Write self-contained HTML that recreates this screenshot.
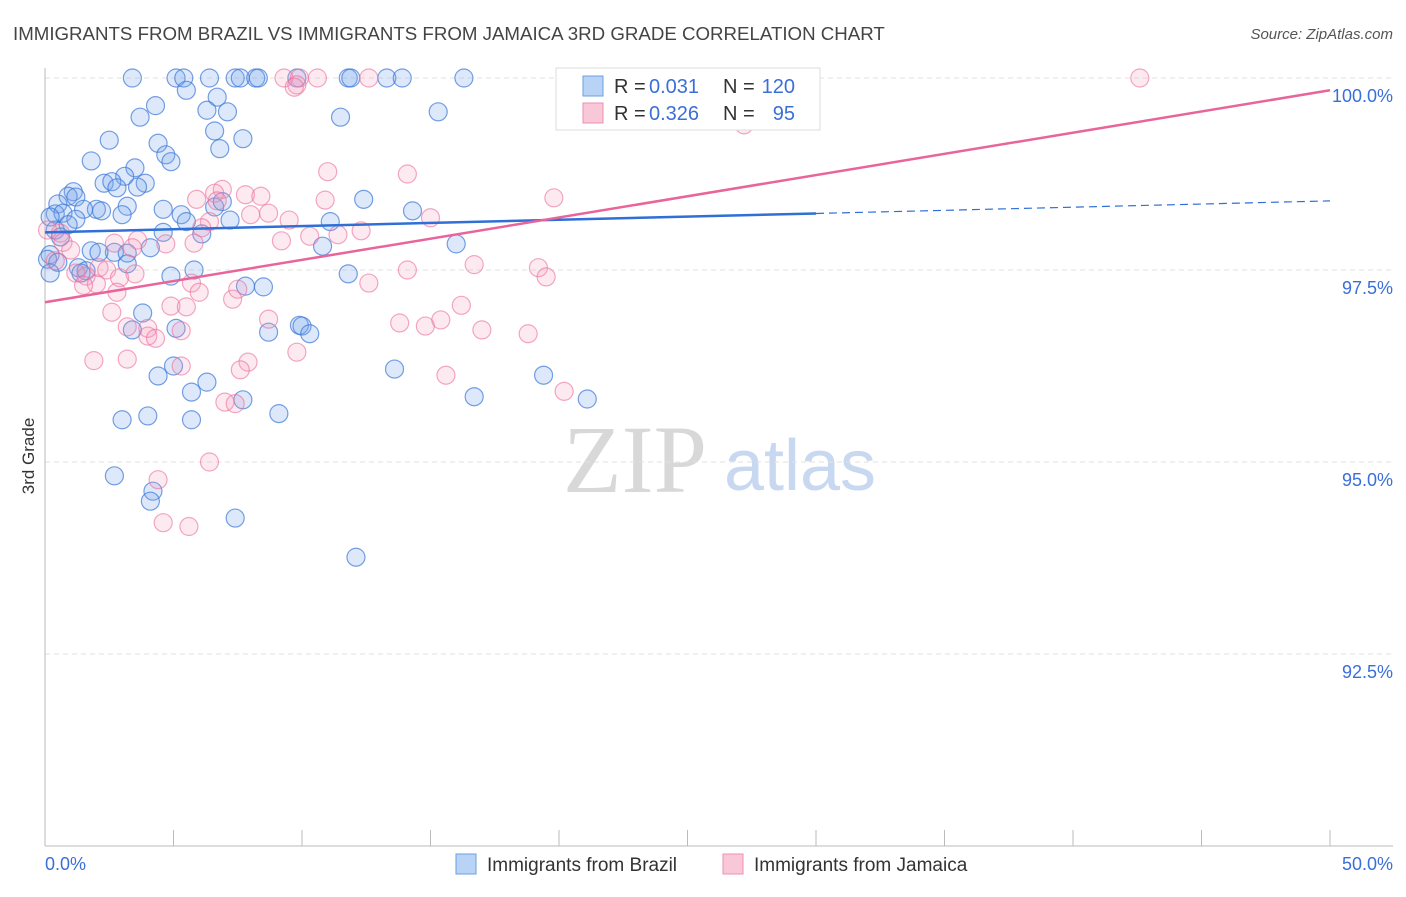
<!DOCTYPE html>
<html><head><meta charset="utf-8"><style>
body{margin:0;background:#fff;width:1406px;height:892px;overflow:hidden;font-family:"Liberation Sans",sans-serif}
</style></head><body>
<svg id="chart" width="1406" height="892" xmlns="http://www.w3.org/2000/svg" style="font-family:'Liberation Sans',sans-serif">
<text x="13" y="40" font-size="18.7" fill="#444">IMMIGRANTS FROM BRAZIL VS IMMIGRANTS FROM JAMAICA 3RD GRADE CORRELATION CHART</text>
<text x="1393" y="39" font-size="15" fill="#555" text-anchor="end" font-style="italic">Source: ZipAtlas.com</text>
<text x="34" y="456" font-size="17" fill="#333" text-anchor="middle" transform="rotate(-90 34 456)">3rd Grade</text>
<g>
<text x="635" y="492" font-size="96" fill="#d8d8d8" font-family="Liberation Serif,serif" text-anchor="middle">ZIP</text>
<text x="800" y="490" font-size="72" fill="#c8d8f0" text-anchor="middle">atlas</text>
</g>
<g id="grid"></g><g id="axes"></g>
<g id="pts"></g><g id="lines"></g>
<g>
<rect x="556" y="68" width="264" height="62" fill="#fff" stroke="#ddd"/>
<rect x="583" y="76" width="20" height="20" fill="#b9d3f6" stroke="#6a9fe0"/>
<rect x="583" y="103" width="20" height="20" fill="#f9c8d8" stroke="#ee8fb0"/>
<text x="614" y="93" font-size="20" fill="#333">R =</text>
<text x="649" y="93" font-size="20" fill="#3a6fd8">0.031</text>
<text x="723" y="93" font-size="20" fill="#333">N =</text>
<text x="795" y="93" font-size="20" fill="#3a6fd8" text-anchor="end">120</text>
<text x="614" y="120" font-size="20" fill="#333">R =</text>
<text x="649" y="120" font-size="20" fill="#3a6fd8">0.326</text>
<text x="723" y="120" font-size="20" fill="#333">N =</text>
<text x="795" y="120" font-size="20" fill="#3a6fd8" text-anchor="end">95</text>
</g>
<g>
<rect x="456" y="854" width="20" height="20" fill="#b9d3f6" stroke="#6a9fe0"/>
<text x="487" y="871" font-size="19" fill="#333">Immigrants from Brazil</text>
<rect x="723" y="854" width="20" height="20" fill="#f9c8d8" stroke="#ee8fb0"/>
<text x="754" y="871" font-size="19" fill="#333">Immigrants from Jamaica</text>
</g>
</svg>
<script>
const xTickLabels=["0.0%","50.0%"];
const yTicks=[100,97.5,95,92.5];
const yTickLabels=["100.0%","97.5%","95.0%","92.5%"];
const brazilX=[3.4,5.1,5.4,6.4,7.4,7.6,8.2,8.3,9.8,11.8,11.9,13.3,13.9,16.3,5.5,6.7,4.3,6.3,7.1,3.7,11.5,15.3,6.6,2.5,7.7,4.4,6.8,4.7,1.8,4.9,3.5,2.3,3.1,2.6,3.9,2.8,3.6,1.1,0.9,1.2,12.4,0.5,2.0,3.2,2.2,1.5,4.6,0.4,0.7,3.0,5.3,0.2,1.2,6.6,6.9,11.1,14.3,7.2,5.5,0.9,6.1,0.4,0.6,4.6,10.8,16.0,4.1,1.8,2.7,2.1,3.2,0.2,0.1,0.5,3.2,1.3,1.6,1.4,0.2,5.8,4.9,11.8,7.8,8.5,3.8,5.1,3.4,9.9,10.0,8.7,10.3,5.0,13.6,4.4,6.3,19.4,5.7,16.7,21.1,7.7,9.1,3.0,4.0,5.7,2.7,4.2,4.1,7.4,12.1];
const brazilY=[100,100,100,100,100,100,100,100,100,100,100,100,100,100,99.84,99.75,99.64,99.58,99.56,99.49,99.49,99.56,99.31,99.19,99.21,99.15,99.08,99.0,98.92,98.91,98.83,98.63,98.72,98.65,98.63,98.57,98.58,98.52,98.46,98.45,98.42,98.36,98.29,98.33,98.27,98.29,98.29,98.23,98.24,98.22,98.22,98.19,98.16,98.32,98.39,98.13,98.27,98.15,98.13,98.09,97.97,98.02,97.93,97.99,97.81,97.84,97.79,97.75,97.73,97.73,97.72,97.70,97.64,97.60,97.58,97.53,97.49,97.46,97.46,97.50,97.42,97.45,97.29,97.28,96.94,96.74,96.72,96.78,96.77,96.69,96.67,96.25,96.21,96.12,96.04,96.13,95.91,95.85,95.82,95.81,95.63,95.55,95.60,95.55,94.82,94.62,94.49,94.27,93.76];
const jamaicaX=[20.3,25.7,42.6,9.3,9.9,10.6,12.6,9.8,9.7,27.2,11.0,14.1,6.9,6.6,7.8,8.4,5.9,6.7,19.8,10.9,8.7,8.0,9.5,15.0,6.4,6.1,12.3,3.6,2.7,4.7,11.4,9.2,10.3,5.8,0.1,0.6,0.7,1.0,0.4,3.4,14.1,16.7,19.2,19.5,2.1,2.4,3.5,1.2,1.6,2.9,2.0,1.5,12.6,5.7,7.5,6.0,7.3,8.7,4.9,5.5,2.8,2.6,16.2,13.8,14.8,15.4,17.0,18.8,3.2,4.0,4.0,4.3,5.3,9.8,1.9,3.2,5.3,7.9,7.6,15.6,20.2,7.0,7.4,6.4,4.4,4.6,5.6];
const jamaicaY=[100,100,100,100,100,100,100,99.91,99.88,99.39,98.78,98.75,98.55,98.50,98.48,98.46,98.42,98.40,98.44,98.41,98.24,98.22,98.15,98.18,98.13,98.05,98.01,97.89,97.85,97.84,97.96,97.88,97.94,97.85,98.02,97.98,97.86,97.76,97.62,97.79,97.50,97.57,97.53,97.41,97.53,97.50,97.45,97.46,97.42,97.40,97.32,97.30,97.33,97.33,97.25,97.21,97.12,96.86,97.03,97.02,97.21,96.95,97.04,96.81,96.77,96.85,96.72,96.67,96.76,96.74,96.64,96.61,96.71,96.43,96.32,96.34,96.25,96.30,96.20,96.13,95.92,95.78,95.76,95.00,94.77,94.21,94.16];
const brazilTrend=[97.99,98.40];
const jamaicaTrend=[97.08,99.84];
const NS="http://www.w3.org/2000/svg";
const X0=45,X1=1330,Y100=78,Y90=846;
function sx(v){return X0+(v/50)*(X1-X0);}
function sy(v){return Y100+(100-v)/10*(Y90-Y100);}
function mk(tag,attrs,parent){const e=document.createElementNS(NS,tag);for(const k in attrs)e.setAttribute(k,attrs[k]);parent.appendChild(e);return e;}
const grid=document.getElementById('grid'),axes=document.getElementById('axes');
yTicks.forEach((t,i)=>{
  const l=mk('line',{x1:X0,x2:1393,y1:sy(t),y2:sy(t),stroke:'#e2e2e2','stroke-dasharray':'5,4'},grid);
  
  
  const tx=mk('text',{x:1393,y:sy(t)+24,'font-size':18,fill:'#3a6fd8','text-anchor':'end'},axes);
  tx.textContent=yTickLabels[i];
  
  
});
const xa=mk('line',{x1:X0,x2:1393,y1:Y90,y2:Y90,stroke:'#bbb'},axes);


const ya=mk('line',{x1:X0,x2:X0,y1:68,y2:Y90,stroke:'#bbb'},axes);


for(let i=0;i<=10;i++){
  const t=mk('line',{x1:sx(i*5),x2:sx(i*5),y1:Y90,y2:Y90-16,stroke:'#bbb'},axes);
  
  
}
const xl0=mk('text',{x:45,y:870,'font-size':18,fill:'#3a6fd8'},axes);xl0.textContent=xTickLabels[0];


const xl1=mk('text',{x:1393,y:870,'font-size':18,fill:'#3a6fd8','text-anchor':'end'},axes);xl1.textContent=xTickLabels[1];


const pts=document.getElementById('pts');
function series(xs,ys,fill,stroke,name){
  xs.forEach((x,i)=>{
    const c=mk('circle',{cx:sx(x),cy:sy(ys[i]),r:9,fill:fill,stroke:stroke,'stroke-width':1.2},pts);
    
    
  });
}
series(brazilX,brazilY,'rgba(120,165,235,0.25)','rgba(60,120,215,0.7)','brazil-point');
series(jamaicaX,jamaicaY,'rgba(245,150,185,0.2)','rgba(235,110,155,0.6)','jamaica-point');
const lines=document.getElementById('lines');
const bAt=x=>brazilTrend[0]+(brazilTrend[1]-brazilTrend[0])*x/50;
const b1=mk('line',{x1:sx(0),y1:sy(bAt(0)),x2:sx(30),y2:sy(bAt(30)),stroke:'#2f6fd6','stroke-width':2.5},lines);


const b2=mk('line',{x1:sx(30),y1:sy(bAt(30)),x2:sx(50),y2:sy(bAt(50)),stroke:'#2f6fd6','stroke-width':1.2,'stroke-dasharray':'8,5'},lines);


const j1=mk('line',{x1:sx(0),y1:sy(jamaicaTrend[0]),x2:sx(50),y2:sy(jamaicaTrend[1]),stroke:'#e8649a','stroke-width':2.5},lines);


</script>
</body></html>
